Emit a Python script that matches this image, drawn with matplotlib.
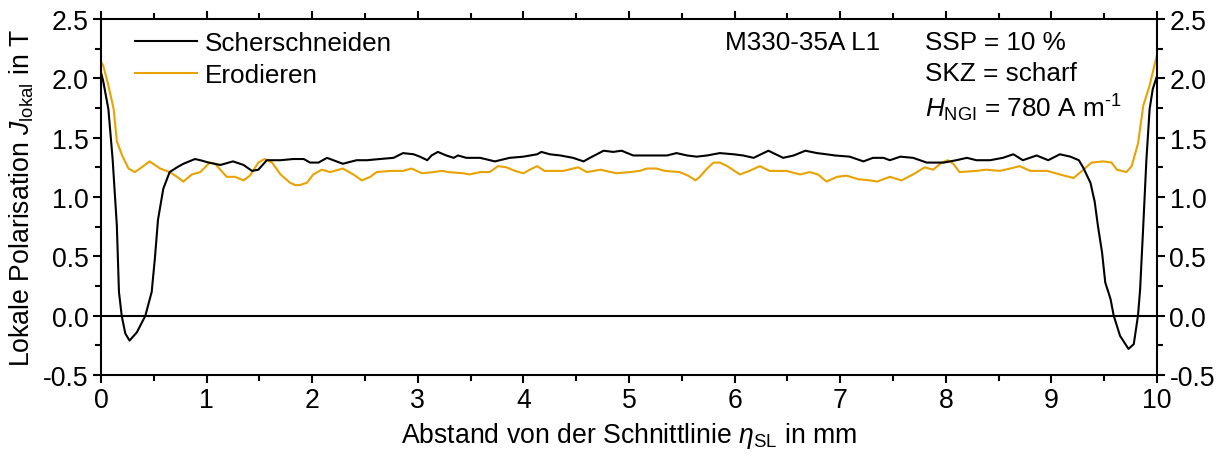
import matplotlib
matplotlib.use("Agg")
import matplotlib.pyplot as plt
from matplotlib.ticker import MultipleLocator

plt.rcParams['font.family'] = ['Liberation Sans', 'DejaVu Sans']
plt.rcParams['mathtext.fontset'] = 'custom'
plt.rcParams['mathtext.rm'] = 'Liberation Sans'
plt.rcParams['mathtext.it'] = 'Liberation Sans:italic'
plt.rcParams['mathtext.bf'] = 'Liberation Sans:bold'

# Scherschneiden (shear cut)
x_scher = [0.00, 0.02, 0.07, 0.11, 0.15, 0.17, 0.196, 0.23, 0.27, 0.34, 0.42, 0.48, 0.51, 0.54,
           0.59, 0.65, 0.72, 0.78, 0.89, 0.94, 1.02, 1.13, 1.25, 1.35, 1.43, 1.49, 1.57, 1.70,
           1.82, 1.92, 1.98, 2.06, 2.14, 2.23, 2.29, 2.42, 2.52, 2.64, 2.77, 2.86, 2.96, 3.02,
           3.09, 3.13, 3.19, 3.27, 3.34, 3.38, 3.46, 3.59, 3.73, 3.87, 4.00, 4.13, 4.17, 4.25,
           4.35, 4.47, 4.57, 4.63, 4.76, 4.85, 4.93, 5.04, 5.17, 5.36, 5.45, 5.55, 5.64, 5.74,
           5.86, 5.99, 6.08, 6.18, 6.32, 6.46, 6.56, 6.67, 6.78, 6.87, 6.95, 7.09, 7.22, 7.31,
           7.41, 7.47, 7.57, 7.69, 7.82, 7.98, 8.10, 8.20, 8.29, 8.42, 8.54, 8.64, 8.73, 8.86,
           8.97, 9.08, 9.18, 9.26, 9.30, 9.37, 9.41, 9.44, 9.48, 9.51, 9.56, 9.59, 9.65, 9.73,
           9.78, 9.82, 9.84, 9.87, 9.90, 9.93, 9.96, 10.00]
y_scher = [2.05, 1.98, 1.74, 1.32, 0.76, 0.20, 0.00, -0.15, -0.21, -0.14, 0.00, 0.20, 0.48, 0.81,
           1.07, 1.21, 1.25, 1.28, 1.32, 1.31, 1.29, 1.27, 1.30, 1.27, 1.22, 1.23, 1.31, 1.31,
           1.32, 1.32, 1.29, 1.29, 1.33, 1.30, 1.28, 1.31, 1.31, 1.32, 1.33, 1.37, 1.36, 1.34,
           1.31, 1.35, 1.38, 1.35, 1.33, 1.35, 1.33, 1.33, 1.30, 1.33, 1.34, 1.36, 1.38, 1.36,
           1.35, 1.33, 1.30, 1.33, 1.39, 1.38, 1.39, 1.35, 1.35, 1.35, 1.37, 1.35, 1.34, 1.35,
           1.37, 1.36, 1.35, 1.33, 1.39, 1.33, 1.35, 1.39, 1.37, 1.36, 1.35, 1.34, 1.30, 1.33,
           1.33, 1.31, 1.34, 1.33, 1.29, 1.29, 1.31, 1.33, 1.31, 1.31, 1.33, 1.36, 1.31, 1.35,
           1.31, 1.36, 1.34, 1.31, 1.25, 1.12, 0.96, 0.76, 0.53, 0.28, 0.14, 0.00, -0.17, -0.28,
           -0.24, 0.00, 0.22, 0.76, 1.32, 1.74, 1.91, 2.02]

# Erodieren (EDM cut)
x_erod = [0.00, 0.02, 0.07, 0.12, 0.15, 0.20, 0.26, 0.32, 0.385, 0.46, 0.56, 0.65, 0.72, 0.78,
          0.86, 0.94, 1.03, 1.08, 1.19, 1.27, 1.35, 1.41, 1.49, 1.55, 1.62, 1.70, 1.79, 1.84,
          1.88, 1.95, 2.01, 2.09, 2.17, 2.29, 2.39, 2.47, 2.55, 2.61, 2.74, 2.86, 2.94, 3.04,
          3.15, 3.23, 3.29, 3.43, 3.49, 3.59, 3.68, 3.76, 3.84, 3.92, 4.00, 4.06, 4.13, 4.20,
          4.25, 4.38, 4.47, 4.52, 4.60, 4.73, 4.88, 5.01, 5.10, 5.17, 5.26, 5.34, 5.48, 5.56,
          5.63, 5.67, 5.74, 5.80, 5.86, 5.93, 6.05, 6.14, 6.24, 6.33, 6.49, 6.62, 6.71, 6.79,
          6.87, 6.97, 7.06, 7.17, 7.28, 7.35, 7.47, 7.58, 7.69, 7.80, 7.88, 7.96, 8.02, 8.07,
          8.13, 8.29, 8.38, 8.51, 8.61, 8.70, 8.80, 8.96, 9.08, 9.21, 9.29, 9.38, 9.49, 9.57,
          9.62, 9.71, 9.76, 9.82, 9.87, 9.93, 10.00]
y_erod = [2.14, 2.11, 1.94, 1.74, 1.47, 1.35, 1.24, 1.21, 1.25, 1.30, 1.24, 1.21, 1.17, 1.13,
          1.19, 1.21, 1.29, 1.28, 1.17, 1.17, 1.14, 1.18, 1.29, 1.32, 1.29, 1.19, 1.12, 1.10,
          1.10, 1.12, 1.19, 1.23, 1.21, 1.24, 1.19, 1.14, 1.17, 1.21, 1.22, 1.22, 1.24, 1.20,
          1.21, 1.22, 1.21, 1.20, 1.19, 1.21, 1.21, 1.26, 1.25, 1.22, 1.20, 1.23, 1.26, 1.22,
          1.22, 1.22, 1.24, 1.25, 1.21, 1.23, 1.20, 1.21, 1.22, 1.24, 1.24, 1.22, 1.21, 1.18,
          1.14, 1.17, 1.24, 1.29, 1.29, 1.26, 1.19, 1.22, 1.26, 1.22, 1.22, 1.19, 1.21, 1.19,
          1.13, 1.17, 1.18, 1.15, 1.14, 1.13, 1.17, 1.14, 1.19, 1.25, 1.23, 1.29, 1.31, 1.28,
          1.21, 1.22, 1.23, 1.22, 1.24, 1.26, 1.22, 1.22, 1.19, 1.16, 1.22, 1.29, 1.30, 1.29,
          1.23, 1.21, 1.26, 1.45, 1.77, 1.94, 2.20]

x_ticks = [0, 1, 2, 3, 4, 5, 6, 7, 8, 9, 10]
y_ticks = [-0.5, 0.0, 0.5, 1.0, 1.5, 2.0, 2.5]

FS_AX = 19.2
FS_TXT = 18.8

fig = plt.figure(figsize=(12.21, 4.60), dpi=100)
ax = fig.add_axes([101 / 1221, 1 - 376 / 460, 1056 / 1221, 356 / 460])

ax.axhline(0, color='black', lw=1.5, zorder=1)
ax.plot(x_scher, y_scher, color='black', lw=1.5, label='Scherschneiden', zorder=3,
        solid_joinstyle='round')
ax.plot(x_erod, y_erod, color='#E8A202', lw=1.5, label='Erodieren', zorder=2,
        solid_joinstyle='round')

ax.set_xlim(0, 10)
ax.set_ylim(-0.5, 2.5)
ax.set_xticks(x_ticks)
ax.set_yticks(y_ticks)
ax.set_xticklabels([str(v) for v in x_ticks])
ax.set_yticklabels([f"{v:.1f}" for v in y_ticks])
ax.xaxis.set_minor_locator(MultipleLocator(0.5))
ax.yaxis.set_minor_locator(MultipleLocator(0.25))

for s in ax.spines.values():
    s.set_linewidth(1.5)

ax.tick_params(which='both', direction='out', top=True, right=True,
               labelright=True, width=1.5, labelsize=FS_AX, color='black')
ax.tick_params(which='major', length=6, pad=3)
ax.tick_params(which='minor', length=4)

ax.set_xlabel(r'Abstand von der Schnittlinie $\eta_{\mathrm{SL}}$ in mm', fontsize=FS_AX, labelpad=5)
ax.set_ylabel(r'Lokale Polarisation $J_{\mathrm{lokal}}$ in T', fontsize=FS_AX, labelpad=5)

leg = ax.legend(loc='upper left', bbox_to_anchor=(0.015, 1.018), frameon=False,
                fontsize=FS_TXT, handlelength=2.37, handletextpad=0.3, labelspacing=0.3,
                borderaxespad=0.3)

ax.text(5.91, 2.31, 'M330-35A L1', fontsize=FS_TXT, va='center', ha='left')
ax.text(7.80, 2.31, 'SSP = 10 %', fontsize=FS_TXT, va='center', ha='left')
ax.text(7.80, 2.045, 'SKZ = scharf', fontsize=FS_TXT, va='center', ha='left')
ax.text(7.80, 1.76, r'$H_{\mathrm{NGI}}$ = 780 A m$^{\text{-1}}$', fontsize=FS_TXT,
        va='center', ha='left')

fig.savefig('out.png', dpi=100)
